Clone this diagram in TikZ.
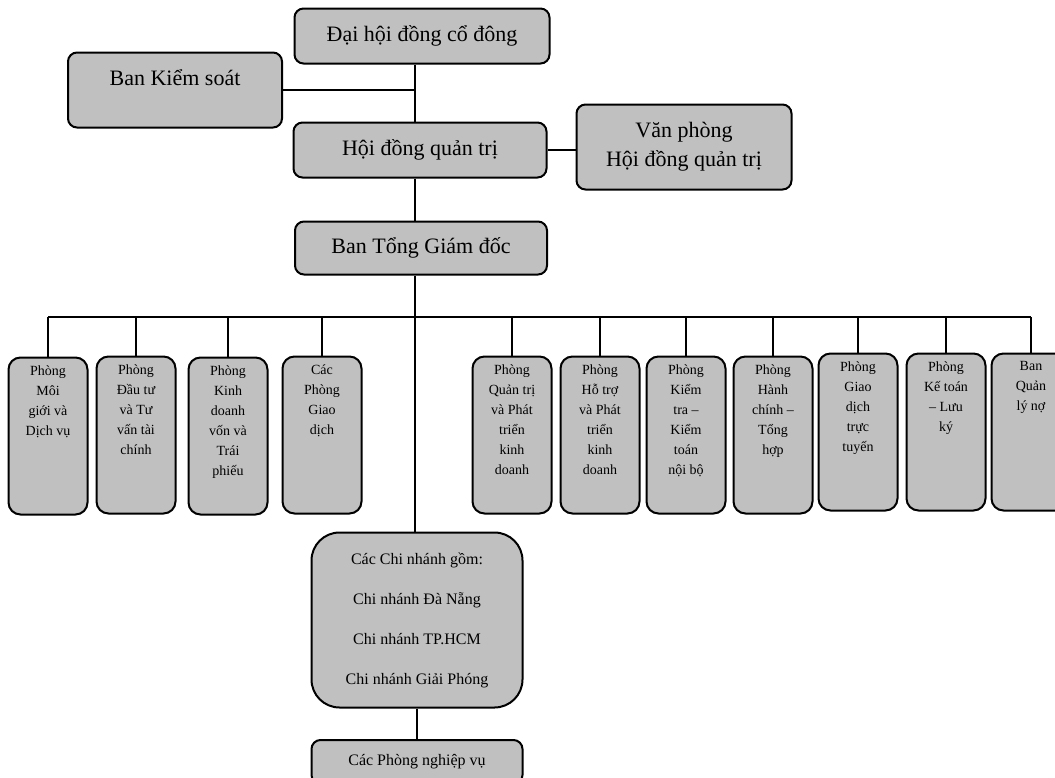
\documentclass[tikz,border=0pt]{standalone}
\usepackage{fontspec}
\setmainfont{Liberation Serif}
\usetikzlibrary{positioning}
\definecolor{boxgray}{RGB}{192,192,192}

\begin{document}
\begin{tikzpicture}[x=1pt,y=-1pt,
  box/.style={draw,line width=2pt,rounded corners=9pt,fill=boxgray,inner sep=0pt},
  topbox/.style={box,font=\fontsize{22}{29}\selectfont,align=center},
  dept/.style={box,rounded corners=12pt,minimum width=79pt,minimum height=157pt},
  depttext/.style={font=\fontsize{14}{20}\selectfont,align=center,inner sep=0pt},
  link/.style={line width=1.6pt}]
\useasboundingbox (0,0) rectangle (1055,777);
\coordinate (trunk) at (415,0);
\coordinate (bus) at (0,317);

% upper levels
\node[topbox,minimum width=255pt,minimum height=55pt] (dhd) at (422,36) {Đại hội đồng cổ đông};
\node[topbox,minimum width=214pt,minimum height=75pt,text depth=24pt] (bks) at (175,90) {Ban Kiểm soát};
\node[topbox,minimum width=253pt,minimum height=55pt] (hdqt) at (420,150) {Hội đồng quản trị};
\node[topbox,minimum width=215pt,minimum height=85pt] (vp) at (684,147) {Văn phòng\\Hội đồng quản trị};
\node[topbox,minimum width=252pt,minimum height=53pt] (btgd) at (421,248) {Ban Tổng Giám đốc};

\draw[link] (dhd.south -| trunk) -- (hdqt.north -| trunk)
  (bks.east) -- (bks.east -| trunk)
  (hdqt.east) -- (hdqt.east -| vp.west)
  (hdqt.south -| trunk) -- (btgd.north -| trunk);

% departments
\foreach \n/\x/\y/\t in {
  d1/48/436/{Phòng\\Môi\\giới và\\Dịch vụ},
  d2/136/435/{Phòng\\Đầu tư\\và Tư\\vấn tài\\chính},
  d3/228/436/{Phòng\\Kinh\\doanh\\vốn và\\Trái\\phiếu},
  d4/322/435/{Các\\Phòng\\Giao\\dịch},
  d5/512/435/{Phòng\\Quản trị\\và Phát\\triển\\kinh\\doanh},
  d6/600/435/{Phòng\\Hỗ trợ\\và Phát\\triển\\kinh\\doanh},
  d7/686/435/{Phòng\\Kiểm\\tra –\\Kiểm\\toán\\nội bộ},
  d8/773/435/{Phòng\\Hành\\chính –\\Tổng\\hợp},
  d9/858/432/{Phòng\\Giao\\dịch\\trực\\tuyến},
  d10/946/432/{Phòng\\Kế toán\\– Lưu\\ký},
  d11/1031/432/{Ban\\Quản\\lý nợ}}{
  \node[dept] (\n) at (\x,\y) {};
  \node[depttext,below=9pt of \n.north] (\n t) {\t};
  \draw[link] (\n.north) -- (\n.north |- bus);
}
\draw[link] (d1.north |- bus) -- (d11.north |- bus);

% branches
\node[box,rounded corners=28pt,minimum width=211pt,minimum height=175pt,
  font=\fontsize{16}{40}\selectfont,align=center] (branch) at (417,620)
  {Các Chi nhánh gồm:\\Chi nhánh Đà Nẵng\\Chi nhánh TP.HCM\\Chi nhánh Giải Phóng};
\node[box,minimum width=211pt,minimum height=44pt,font=\fontsize{16}{18}\selectfont]
  (nv) at (417,762) {Các Phòng nghiệp vụ};

\draw[link] (btgd.south -| trunk) -- (branch.north -| trunk)
  (branch.south) -- (nv.north);
\end{tikzpicture}
\end{document}
